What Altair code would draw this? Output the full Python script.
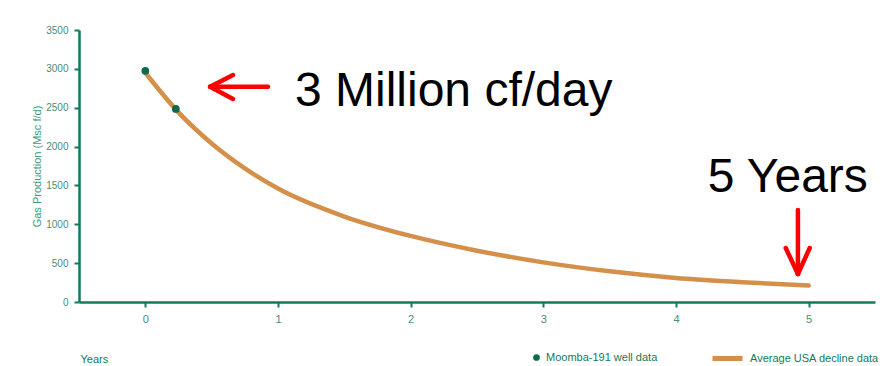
import altair as alt
import pandas as pd

# ---- data ----
well_years = [0.0, 0.23]
well_gas = [2975, 2485]

decline_years = [0.0, 0.25, 0.5, 0.75, 1.0, 1.5, 2.0, 2.5, 3.0, 3.5, 4.0, 4.5, 5.0]
decline_gas = [2950, 2440, 2040, 1720, 1460, 1100, 850, 660, 510, 395, 310, 255, 212]

x_ticks = [0, 1, 2, 3, 4, 5]
y_ticks = [0, 500, 1000, 1500, 2000, 2500, 3000, 3500]

# annotation arrows (data coordinates): shaft + two head strokes each
arrow_x = [0.925, 0.488, 0.488, 4.919, 4.919, 4.919]
arrow_y = [2770, 2770, 2770, 1184, 360, 360]
arrow_x2 = [0.488, 0.661, 0.661, 4.919, 4.827, 5.008]
arrow_y2 = [2770, 2921, 2612, 360, 695, 695]

note_text = ["3 Million cf/day", "5 Years"]
note_x = [1.128, 4.239]
note_y = [2522, 1415]

SERIES_PT = "Moomba-191 well data"
SERIES_LN = "Average USA decline data"

GREEN = "#137a5a"
LABEL = "#4d8a76"
FONT = "Liberation Sans"

well_df = pd.DataFrame({"year": well_years, "gas": well_gas, "series": SERIES_PT})
dec_df = pd.DataFrame({"year": decline_years, "gas": decline_gas, "series": SERIES_LN})
arrow_df = pd.DataFrame({"year": arrow_x, "gas": arrow_y, "x2": arrow_x2, "y2": arrow_y2})
note_df = pd.DataFrame({"t": note_text, "year": note_x, "gas": note_y})

xscale = alt.Scale(domain=[-0.5, 5.5], nice=False, zero=False)
yscale = alt.Scale(domain=[0, 3500], nice=False, zero=True)

xaxis = alt.Axis(
    values=x_ticks, format="d", title="Years", grid=False, labelOverlap=False,
    domainColor=GREEN, domainWidth=2.5, tickColor=GREEN, tickWidth=2, tickSize=5,
    labelColor=LABEL, labelFont=FONT, labelFontSize=11, labelPadding=6,
    titleFont=FONT, titleFontSize=11, titleFontWeight="normal", titleColor=GREEN,
    titleAnchor="start", titleAlign="left", titleX=1, titleY=60, titleBaseline="alphabetic",
)
yaxis = alt.Axis(
    values=y_ticks, tickCount=8, format="d", title="Gas Production (Msc f/d)", grid=False,
    labelOverlap=False,
    domainColor=GREEN, domainWidth=2.5, tickColor=GREEN, tickWidth=2, tickSize=5,
    labelColor=LABEL, labelFont=FONT, labelFontSize=10, labelPadding=6,
    titleFont=FONT, titleFontSize=11, titleFontWeight="normal", titleColor="#3a9a78",
    titleX=-42, titleY=136, titleAlign="center", titleBaseline="middle", titleAngle=270,
)

X = alt.X("year:Q", scale=xscale, axis=xaxis)
Y = alt.Y("gas:Q", scale=yscale, axis=yaxis)

line = alt.Chart(dec_df).mark_line(
    interpolate="monotone", strokeWidth=4.5, strokeCap="round"
).encode(
    x=X,
    y=Y,
    stroke=alt.Stroke(
        "series:N",
        scale=alt.Scale(domain=[SERIES_LN], range=["#d4904a"]),
        legend=alt.Legend(
            title=None, orient="none", legendX=631, legendY=311, padding=0,
            symbolType="stroke", symbolSize=900, symbolStrokeWidth=5,
            labelFont=FONT, labelFontSize=11, labelColor=GREEN, labelOffset=5,
        ),
    ),
)

points = alt.Chart(well_df).mark_point(filled=True, size=60, opacity=1).encode(
    x=X,
    y=Y,
    fill=alt.Fill(
        "series:N",
        scale=alt.Scale(domain=[SERIES_PT], range=["#0d6b4c"]),
        legend=alt.Legend(
            title=None, orient="none", legendX=452, legendY=322, padding=0,
            symbolType="circle", symbolSize=45, symbolStrokeWidth=0,
            labelFont=FONT, labelFontSize=11, labelColor=GREEN, labelOffset=4,
        ),
    ),
)

arrows = alt.Chart(arrow_df).mark_rule(color="#ff0000", strokeWidth=4.5, strokeCap="round").encode(
    x=X, y=Y, x2="x2:Q", y2="y2:Q"
)

notes = alt.Chart(note_df).mark_text(
    align="left", baseline="alphabetic", fontSize=48, font=FONT, color="#000000",
).encode(x=X, y=Y, text="t:N")

chart = alt.layer(line, points, arrows, notes).properties(
    width=796, height=272,
    autosize=alt.AutoSizeParams(type="none"),
    padding={"left": 79, "top": 30, "right": 13, "bottom": 64},
    background="#ffffff",
).configure_view(stroke=None).resolve_scale(fill="independent", stroke="independent")

chart.save("out.html", embed_options={"renderer": "svg", "actions": False})
